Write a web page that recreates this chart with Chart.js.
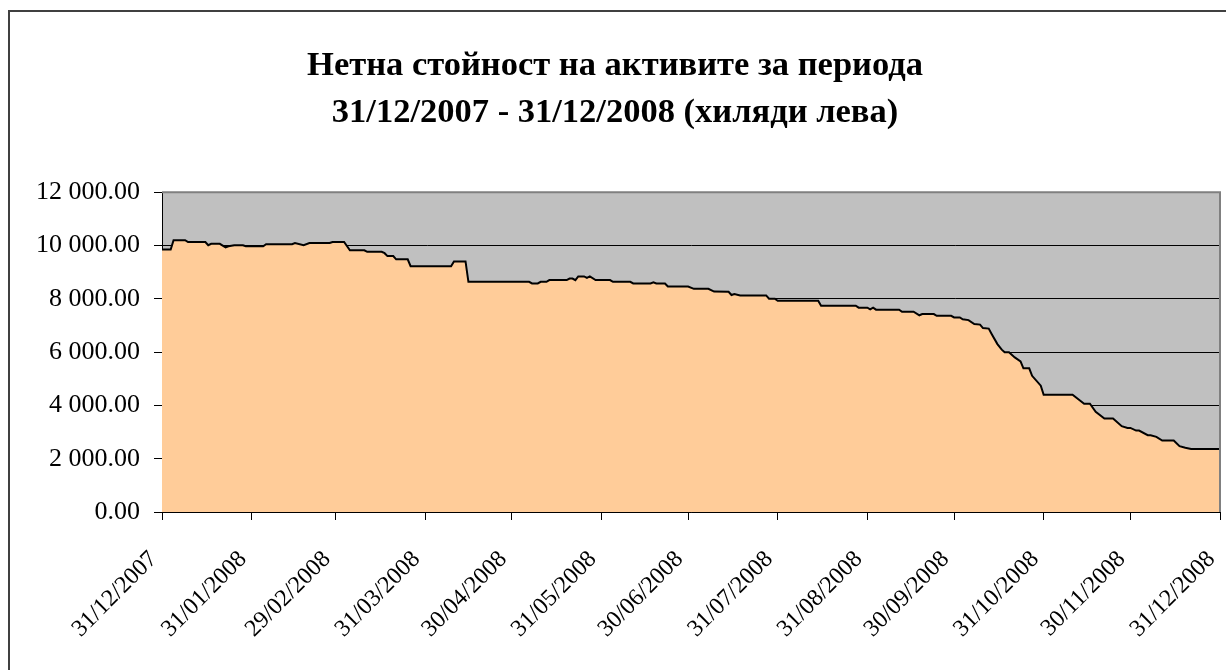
<!DOCTYPE html>
<html>
<head>
<meta charset="utf-8">
<script src="https://cdn.jsdelivr.net/npm/chart.js@4/dist/chart.umd.min.js"></script>
<style>
  html, body { margin: 0; padding: 0; background: #fff; }
  #wrap { width: 1226px; height: 670px; }
</style>
</head>
<body>
<div id="wrap"><canvas id="nav_chart" width="1226" height="670"></canvas></div>
<script>
/* DATA */
const TITLE = [
    'Нетна стойност на активите за периода',
    '31/12/2007 - 31/12/2008 (хиляди лева)'
];

// days counted from 31/12/2007
const TICK_DAYS = [0, 31, 60, 91, 121, 152, 182, 213, 244, 274, 305, 335, 366];
const TICK_LABELS = [
    '31/12/2007', '31/01/2008', '29/02/2008', '31/03/2008',
    '30/04/2008', '31/05/2008', '30/06/2008', '31/07/2008',
    '31/08/2008', '30/09/2008', '31/10/2008', '30/11/2008',
    '31/12/2008'
];

var nav_days = [
    0, 3, 4, 8, 9, 15, 16, 17, 20, 22, 23, 25, 28, 29, 35, 36, 45, 46, 49, 51,
    58, 59, 63, 65, 70, 71, 76, 77, 78, 80, 81, 85, 86, 100, 101, 105, 106, 127, 128, 130,
    131, 133, 134, 140, 141, 142, 143, 144, 146, 147, 148, 150, 155, 156, 162, 163, 169, 170, 171, 174,
    175, 182, 184, 189, 191, 196, 197, 198, 200, 209, 210, 212, 213, 227, 228, 240, 241, 244, 245, 246,
    247, 255, 256, 260, 262, 263, 267, 268, 273, 274, 276, 277, 279, 281, 283, 284, 286, 287, 289, 290.5,
    291.5, 293, 295, 297, 298, 300, 301, 304, 305, 315, 317, 319, 321, 323, 326, 329, 332, 334, 335, 337,
    338, 341, 342, 344, 346, 350, 352, 354, 356, 366
];
var nav_values = [
    9850, 9850, 10200, 10200, 10130, 10130, 10010, 10060, 10060, 9930, 9970, 10010, 10010, 9970, 9970, 10045, 10045, 10090, 10010, 10090,
    10090, 10130, 10130, 9820, 9820, 9760, 9760, 9710, 9600, 9600, 9480, 9480, 9220, 9220, 9400, 9400, 8635, 8635, 8575, 8575,
    8635, 8635, 8700, 8700, 8760, 8760, 8700, 8836, 8836, 8780, 8836, 8700, 8700, 8635, 8635, 8575, 8575, 8620, 8575, 8575,
    8460, 8460, 8373, 8373, 8270, 8260, 8140, 8180, 8126, 8126, 8000, 8000, 7925, 7925, 7740, 7740, 7665, 7665, 7600, 7665,
    7590, 7590, 7513, 7513, 7380, 7425, 7425, 7360, 7360, 7300, 7300, 7230, 7200, 7050, 7030, 6900, 6880, 6680, 6300, 6090,
    5990, 5990, 5800, 5650, 5390, 5390, 5110, 4740, 4400, 4400, 4230, 4060, 4060, 3760, 3510, 3510, 3220, 3155, 3155, 3055,
    3055, 2880, 2880, 2820, 2680, 2680, 2470, 2410, 2360, 2360
];

/* HELPERS */
const FONT = "'Liberation Serif', 'Times New Roman', serif";

const FORMAT_NUM = (v) => {
    let parts = Number(v).toFixed(2).split('.');
    parts[0] = parts[0].replace(/\B(?=(\d{3})+(?!\d))/g, ' ');
    return parts.join('.');
};

/* background: outer frame + gray plot area */
const frameAndPlot = {
    id: 'frameAndPlot',
    beforeDraw(chart) {
        const ctx = chart.ctx;
        const a = chart.chartArea;
        ctx.save();
        ctx.fillStyle = '#C0C0C0';
        ctx.fillRect(a.left, a.top, a.right - a.left, a.bottom - a.top);
        ctx.strokeStyle = '#404040';
        ctx.lineWidth = 2;
        ctx.beginPath();
        ctx.moveTo(9, 670);
        ctx.lineTo(9, 11);
        ctx.lineTo(1226, 11);
        ctx.stroke();
        ctx.restore();
    },
    afterDatasetsDraw(chart) {
        const ctx = chart.ctx;
        const a = chart.chartArea;
        ctx.save();
        ctx.strokeStyle = '#808080';
        ctx.lineWidth = 2;
        ctx.beginPath();
        ctx.moveTo(a.left, a.top);
        ctx.lineTo(a.right, a.top);
        ctx.lineTo(a.right, a.bottom);
        ctx.stroke();
        ctx.restore();
    }
};

/* Line Chart */
var chartNav = new Chart(document.getElementById('nav_chart'), {
    type: 'line',
    data: {
        datasets: [{
            label: 'НСА',
            data: nav_days.map((d, i) => ({ x: d, y: nav_values[i] })),
            borderColor: '#000000',
            backgroundColor: '#FFCC99',
            borderWidth: 2,
            fill: 'origin',
            pointRadius: 0,
            tension: 0
        }]
    },
    options: {
        responsive: false,
        animation: false,
        layout: { padding: { left: 10, right: 6, top: 0, bottom: 0 } },
        plugins: {
            legend: { display: false },
            tooltip: { enabled: false },
            title: {
                display: true,
                text: TITLE,
                color: '#000',
                font: { family: FONT, size: 34.5, weight: 'bold', lineHeight: 1.35 },
                padding: { top: 43, bottom: 56 }
            }
        },
        scales: {
            x: {
                type: 'linear',
                min: 0,
                max: 366,
                afterBuildTicks: (scale) => {
                    scale.ticks = TICK_DAYS.map(d => ({ value: d }));
                },
                afterFit: (scale) => {
                    scale.height = 158;
                    scale.paddingLeft = 0;
                    scale.paddingRight = 0;
                },
                ticks: {
                    autoSkip: false,
                    maxRotation: 45,
                    minRotation: 45,
                    padding: 17,
                    color: '#000',
                    font: { family: FONT, size: 24 },
                    callback: (v) => TICK_LABELS[TICK_DAYS.indexOf(v)] + '  '
                },
                grid: {
                    drawOnChartArea: false,
                    tickLength: 8,
                    color: '#000',
                    lineWidth: 1
                },
                border: { color: '#000', width: 1 }
            },
            y: {
                min: 0,
                max: 12000,
                afterFit: (scale) => { scale.width = 152; },
                ticks: {
                    stepSize: 2000,
                    padding: 14,
                    color: '#000',
                    font: { family: FONT, size: 26 },
                    callback: (v) => FORMAT_NUM(v)
                },
                grid: {
                    color: '#000',
                    lineWidth: 1,
                    tickLength: 8
                },
                border: { color: '#000', width: 1 }
            }
        }
    },
    plugins: [frameAndPlot]
});
</script>
</body>
</html>
